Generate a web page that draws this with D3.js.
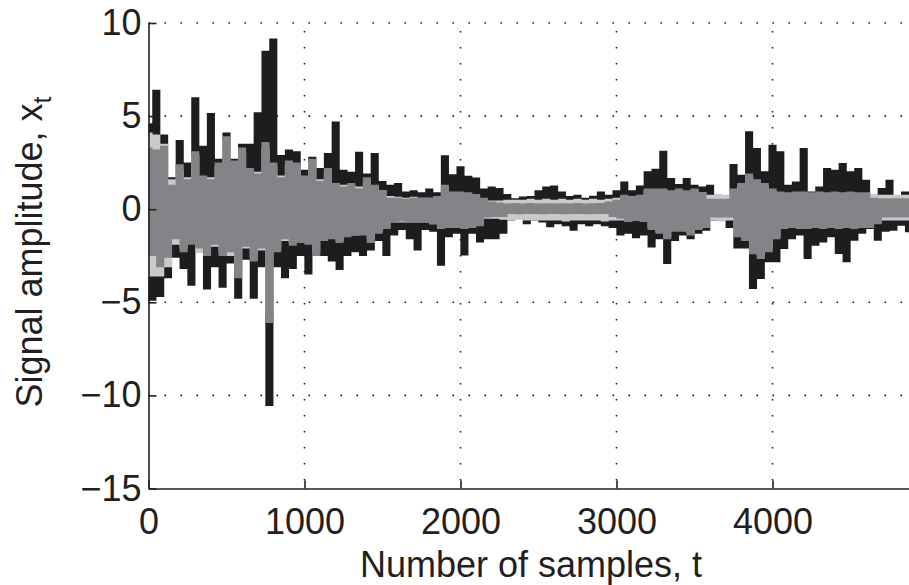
<!DOCTYPE html>
<html>
<head>
<meta charset="utf-8">
<script src="https://cdn.jsdelivr.net/npm/d3@7"></script>
<style>
  body { margin: 0; background: #fff; }
  svg text { font-family: "Liberation Sans", Arial, Helvetica, sans-serif; fill: #231f20; }
</style>
</head>
<body>
<svg id="chart"></svg>
<script>
// samples every 25 samples
var sampleStep = 25;
var xTicks = [0, 1000, 2000, 3000, 4000];
var yTicks = [10, 5, 0, -5, -10, -15];

var blackSignal = [
  4.5, -4.8, 6.3, -4.6, 3.9, -3.6, 1.6, -2.5,
  3.6, -3.1, 2.4, -4.0, 5.9, -2.2, 3.3, -4.2,
  5.05, -3.0, 2.6, -4.1, 4.0, -2.8, 2.6, -4.7,
  3.4, -2.6, 3.4, -4.7, 5.1, -3.0, 8.4, -10.45,
  9.05, -3.0, 2.8, -3.6, 3.1, -3.1, 3.0, -2.4,
  2.0, -3.4, 2.7, -2.4, 2.1, -2.4, 2.9, -2.7,
  4.6, -3.15, 2.0, -2.4, 1.9, -2.2, 2.97, -2.4,
  1.8, -2.1, 2.9, -1.6, 1.4, -2.4, 1.2, -1.3,
  1.3, -1.0, 0.84, -1.5, 0.9, -2.1, 0.8, -1.0,
  1.0, -1.1, 0.8, -2.92, 2.78, -1.4, 1.77, -1.2,
  2.19, -2.37, 1.68, -1.2, 1.59, -1.67, 1.0, -1.5,
  1.11, -1.5, 1.02, -1.2, 0.7, -0.5, 0.48, -0.3,
  0.57, -0.7, 0.6, -0.5, 0.9, -0.6, 1.11, -0.86,
  1.16, -0.7, 0.84, -0.8, 0.6, -1.04, 0.66, -0.7,
  0.5, -0.8, 0.61, -0.7, 0.84, -0.8, 0.66, -0.9,
  0.9, -1.3, 1.38, -1.2, 0.9, -1.45, 1.16, -1.3,
  1.92, -1.94, 2.06, -1.5, 3.03, -2.83, 1.56, -1.6,
  1.24, -1.3, 1.56, -1.5, 1.2, -1.2, 1.1, -1.04,
  1.2, -0.5, 0.66, -0.5, 0.6, -0.9, 2.31, -2.0,
  1.74, -2.0, 4.07, -4.17, 3.17, -3.63, 1.92, -2.74,
  3.35, -2.74, 3.0, -2.03, 1.2, -1.5, 1.38, -1.3,
  3.17, -2.56, 0.84, -1.85, 1.11, -1.67, 2.1, -1.4,
  2.0, -2.29, 2.37, -2.74, 1.92, -1.58, 2.1, -1.2,
  1.47, -0.95, 0.66, -1.58, 1.02, -1.1, 1.47, -1.04,
  0.48, -0.77, 0.84, -1.13
];

var lightSignal = [
  4.0, -3.5, 3.9, -3.5, 3.4, -3.0, 1.5, -1.8,
  2.0, -2.0, 1.6, -1.7, 2.8, -2.2, 1.5, -2.2,
  1.6, -1.9, 2.2, -2.2, 3.6, -2.4, 2.4, -3.2,
  2.9, -2.0, 1.9, -2.5, 1.9, -2.1, 3.2, -5.5,
  2.2, -2.0, 1.7, -1.6, 2.3, -1.7, 2.2, -1.6,
  1.6, -1.7, 2.4, -2.2, 1.5, -1.5, 1.9, -1.4,
  1.3, -1.6, 1.2, -1.3, 1.2, -1.3, 1.1, -1.2,
  1.4, -1.5, 1.1, -1.1, 0.9, -0.9, 0.6, -0.6,
  0.55, -0.6, 0.5, -0.6, 0.55, -0.6, 0.5, -0.6,
  0.5, -0.7, 0.6, -0.9, 1.1, -0.9, 0.8, -0.9,
  0.8, -0.9, 0.7, -0.8, 0.6, -0.7, 0.45, -0.4,
  0.35, -0.4, 0.35, -0.45, 0.4, -0.5, 0.4, -0.45,
  0.4, -0.5, 0.45, -0.5, 0.4, -0.5, 0.45, -0.5,
  0.4, -0.5, 0.45, -0.55, 0.4, -0.5, 0.45, -0.5,
  0.4, -0.5, 0.45, -0.5, 0.4, -0.55, 0.45, -0.5,
  0.5, -0.5, 0.6, -0.55, 0.6, -0.5, 0.6, -0.55,
  0.9, -0.9, 0.95, -1.1, 0.9, -1.4, 0.85, -1.0,
  0.9, -1.0, 0.85, -1.2, 0.9, -0.95, 0.8, -0.85,
  0.66, -0.5, 0.66, -0.55, 0.66, -0.5, 0.9, -1.3,
  1.2, -1.5, 1.7, -2.2, 1.4, -2.4, 1.2, -2.1,
  0.9, -1.4, 0.8, -0.9, 0.75, -0.85, 0.8, -0.9,
  0.8, -0.9, 0.75, -0.85, 0.8, -0.9, 0.75, -0.85,
  0.8, -0.9, 0.75, -0.85, 0.8, -0.9, 0.75, -0.85,
  0.75, -0.85, 0.66, -0.65, 0.66, -0.5, 0.66, -0.5,
  0.66, -0.5, 0.66, -0.5
];

var greySignal = [
  3.2, -2.4, 3.1, -3.0, 3.3, -2.5, 1.2, -1.5,
  2.3, -2.2, 1.5, -1.8, 3.0, -2.0, 1.7, -2.4,
  1.5, -1.8, 2.4, -2.4, 3.8, -2.2, 2.5, -3.6,
  3.2, -1.9, 2.1, -2.7, 1.8, -2.0, 3.5, -6.0,
  2.4, -2.2, 1.6, -1.5, 2.5, -1.85, 2.4, -1.7,
  1.7, -1.8, 2.6, -2.4, 1.4, -1.6, 2.1, -1.5,
  1.3, -1.7, 1.1, -1.4, 1.3, -1.3, 1.0, -1.3,
  1.6, -1.7, 1.2, -1.2, 0.9, -0.95, 0.5, -0.6,
  0.5, -0.55, 0.45, -0.6, 0.5, -0.6, 0.5, -0.6,
  0.5, -0.7, 0.6, -0.95, 1.2, -0.9, 0.84, -0.9,
  0.84, -0.95, 0.8, -0.9, 0.7, -0.8, 0.5, -0.33,
  0.3, -0.3, 0.25, -0.3, 0.2, -0.15, 0.22, -0.16,
  0.2, -0.15, 0.22, -0.14, 0.2, -0.16, 0.21, -0.15,
  0.2, -0.15, 0.21, -0.16, 0.2, -0.14, 0.22, -0.15,
  0.2, -0.16, 0.21, -0.15, 0.22, -0.15, 0.3, -0.3,
  0.4, -0.4, 0.66, -0.58, 0.6, -0.5, 0.66, -0.58,
  1.0, -1.0, 1.0, -1.2, 1.0, -1.5, 0.9, -1.1,
  1.0, -1.1, 0.9, -1.3, 1.0, -1.0, 0.8, -0.9,
  0.45, -0.33, 0.45, -0.33, 0.45, -0.33, 1.0, -1.4,
  1.3, -1.6, 1.8, -2.3, 1.5, -2.56, 1.3, -2.2,
  1.0, -1.5, 0.84, -0.95, 0.8, -0.9, 0.84, -0.95,
  0.84, -0.95, 0.8, -0.9, 0.84, -0.95, 0.8, -0.9,
  0.84, -0.95, 0.8, -0.9, 0.84, -0.95, 0.8, -0.9,
  0.8, -0.9, 0.5, -0.7, 0.48, -0.33, 0.48, -0.33,
  0.48, -0.33, 0.48, -0.33
];

var width = 909, height = 585;
var ink = "#231f20";

var svg = d3.select("#chart")
    .attr("width", width)
    .attr("height", height);

svg.append("rect")
    .attr("width", width)
    .attr("height", height)
    .attr("fill", "#fff");

var x = d3.scaleLinear().domain([0, 5000]).range([148.5, 928.5]);
var y = d3.scaleLinear().domain([-15, 10]).range([488.5, 23]);

// dotted grid
svg.append("g")
  .selectAll("line")
  .data(yTicks.filter(d => d > -15))
  .join("line")
    .attr("x1", x(0)).attr("x2", width)
    .attr("y1", d => y(d)).attr("y2", d => y(d))
    .attr("stroke", ink)
    .attr("stroke-width", 1.6)
    .attr("stroke-dasharray", "1.6 14.4")
    .attr("stroke-dashoffset", -16);

svg.append("g")
  .selectAll("line")
  .data(xTicks.filter(d => d > 0))
  .join("line")
    .attr("x1", d => x(d)).attr("x2", d => x(d))
    .attr("y1", y(-15)).attr("y2", y(10))
    .attr("stroke", ink)
    .attr("stroke-width", 1.6)
    .attr("stroke-dasharray", "1.6 14.4")
    .attr("stroke-dashoffset", -8);

// signals: the dense oscillation reads as vertical strokes between samples
var line = d3.line()
    .x((d, i) => x(i * sampleStep))
    .y(d => y(d))
    .curve(d3.curveStep);

var series = [
  { values: blackSignal, color: "#1f1c1d" },
  { values: lightSignal, color: "#c9c9ca" },
  { values: greySignal, color: "#838487" }
];

svg.append("g")
  .selectAll("path")
  .data(series)
  .join("path")
    .attr("d", d => line(d.values))
    .attr("fill", "none")
    .attr("stroke", d => d.color)
    .attr("stroke-width", 4.2)
    .attr("stroke-linejoin", "miter");

// axes
var yAxis = d3.axisLeft(y)
    .tickValues(yTicks)
    .tickFormat(d3.format("d"))
    .tickSizeInner(-8)
    .tickSizeOuter(0)
    .tickPadding(7);

var xAxis = d3.axisBottom(x)
    .tickValues(xTicks)
    .tickFormat(d3.format("d"))
    .tickSizeInner(-8)
    .tickSizeOuter(0)
    .tickPadding(20);

var gy = svg.append("g")
    .attr("transform", `translate(${x(0)},0)`)
    .call(yAxis);

var gx = svg.append("g")
    .attr("transform", `translate(0,${y(-15)})`)
    .call(xAxis);

[gx, gy].forEach(g => {
  g.select(".domain").attr("stroke", ink).attr("stroke-width", 1.6);
  g.selectAll(".tick line").attr("stroke", ink).attr("stroke-width", 1.6);
  g.selectAll(".tick text")
      .attr("fill", ink)
      .style("font-size", "36px")
      .style("font-family", "'Liberation Sans', Arial, sans-serif");
});

// axis titles
svg.append("text")
    .attr("x", 531)
    .attr("y", 577)
    .attr("text-anchor", "middle")
    .style("font-size", "36px")
    .text("Number of samples, t");

var yTitle = svg.append("text")
    .attr("transform", "translate(42,252) rotate(-90)")
    .attr("text-anchor", "middle")
    .style("font-size", "36px");
yTitle.append("tspan").text("Signal amplitude, x");
yTitle.append("tspan")
    .attr("dy", 9)
    .style("font-size", "25px")
    .text("t");
</script>
</body>
</html>
